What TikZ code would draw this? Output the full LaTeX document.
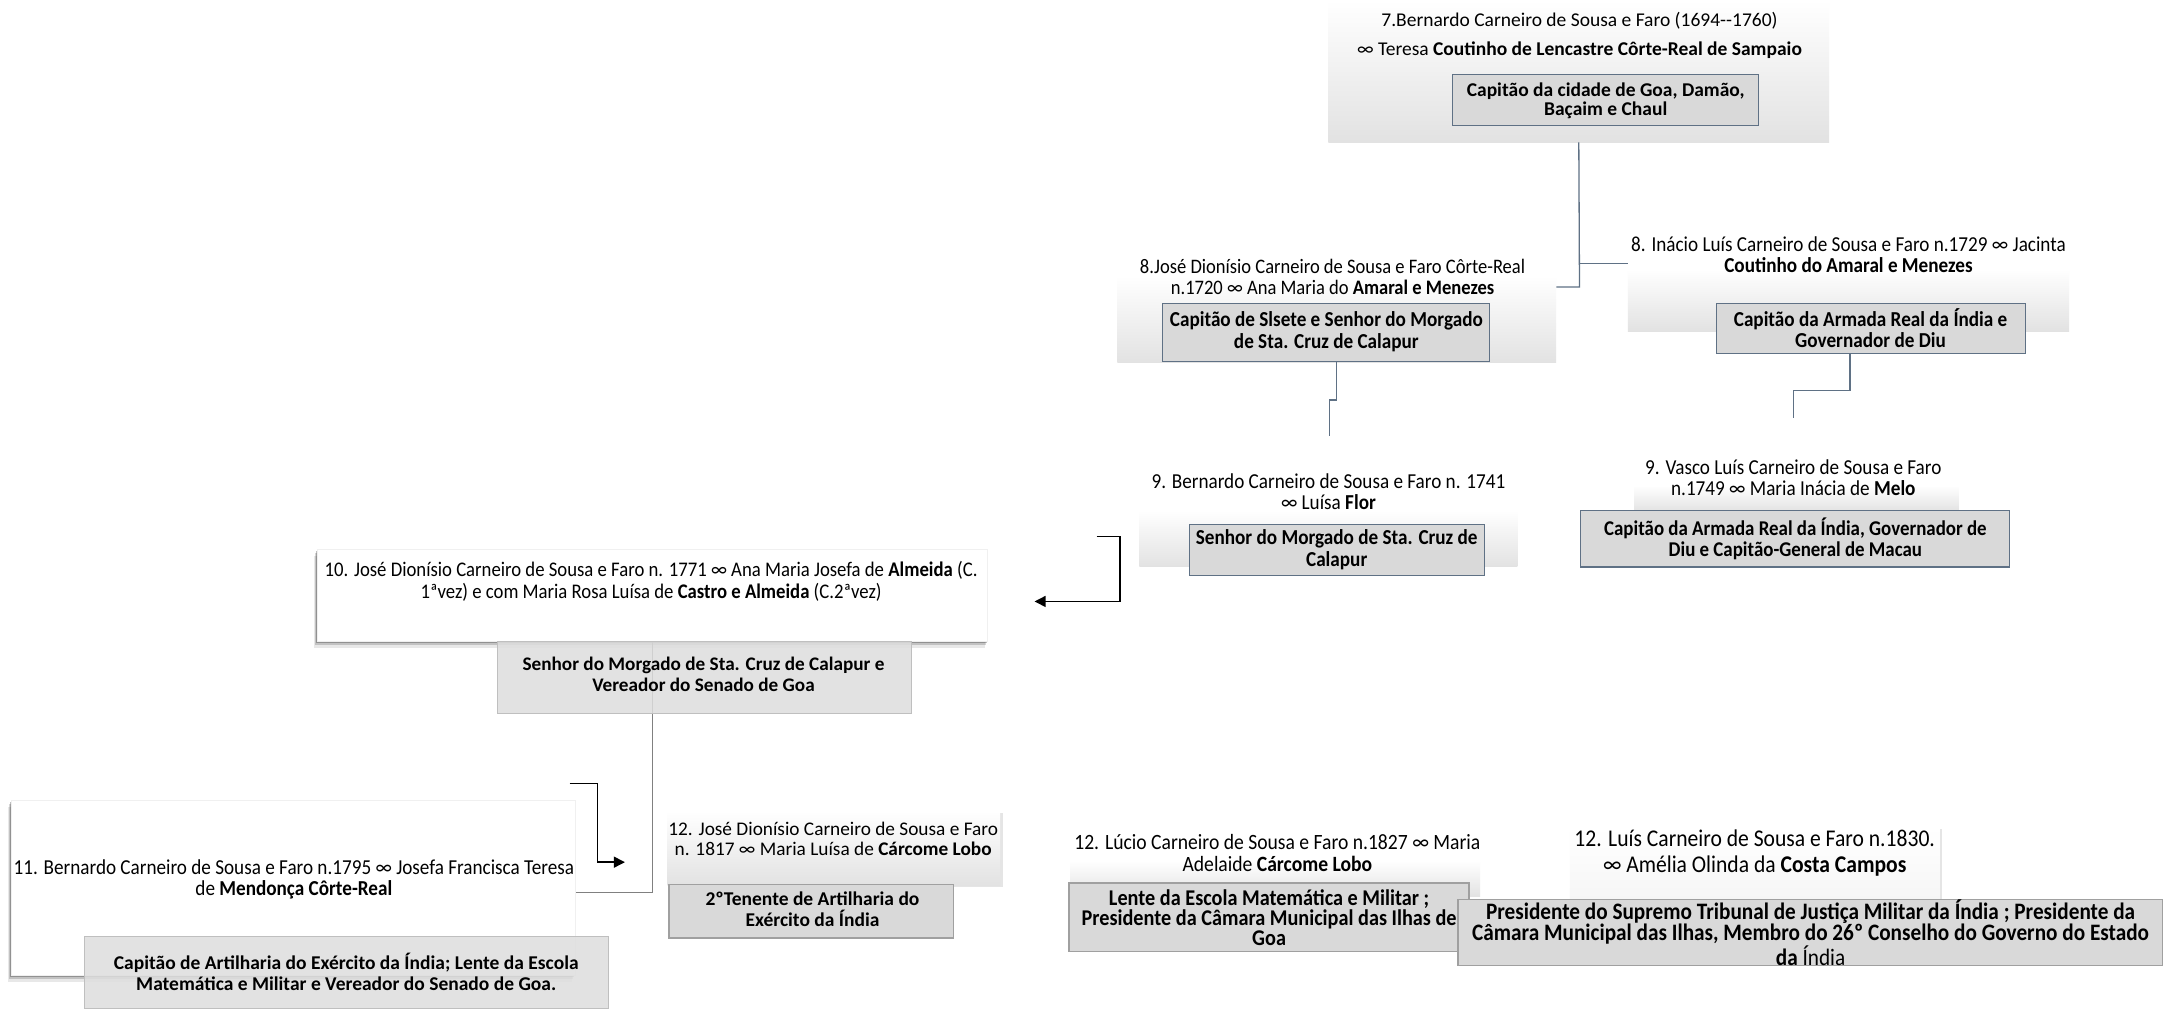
\documentclass[tikz,border=0pt]{standalone}
\usepackage{fontspec}
\setmainfont{Carlito}
\newfontfamily\cond[FakeStretch=0.9]{Carlito}
\usetikzlibrary{fit,shadows,arrows.meta}
\definecolor{boxfill}{HTML}{D9D9D9}
\definecolor{boxline}{HTML}{5F7185}
\definecolor{conn}{HTML}{5F7185}
\definecolor{gradbot}{HTML}{E2E2E2}
\definecolor{lbox}{HTML}{DEDEDE}
\definecolor{lline}{HTML}{BFBFBF}
\definecolor{mline}{HTML}{A0A0A0}
\tikzset{
  grad/.style={inner sep=0pt, top color=white, bottom color=gradbot, draw=none},
  ttl/.style={font=\fontsize{19.5}{21}\selectfont, align=center, inner sep=0pt},
  cttl/.style={font=\cond\fontsize{21.3}{21}\selectfont, align=center, inner sep=0pt},
  btxt/.style={font=\bfseries\fontsize{19.5}{21}\selectfont, align=center, inner sep=0pt},
  cbtxt/.style={font=\cond\bfseries\fontsize{21.3}{21.5}\selectfont, align=center, inner sep=0pt},
  ibox/.style={inner sep=0pt, fill=boxfill, draw=boxline, line width=1.1pt},
  softshadow/.style={
    drop shadow={shadow xshift=-1pt, shadow yshift=-2pt, opacity=0.25, fill=black},
    drop shadow={shadow xshift=-2pt, shadow yshift=-4pt, opacity=0.16, fill=black},
    drop shadow={shadow xshift=-3pt, shadow yshift=-6.5pt, opacity=0.09, fill=black}},
  wbox/.style={inner sep=0pt, fill=white, draw=gray!12, line width=0.6pt, softshadow},
  lgbox/.style={inner sep=0pt, fill=lbox, fill opacity=0.85, draw=lline, line width=1pt},
  mbox/.style={inner sep=0pt, fill=boxfill, draw=mline, line width=1.3pt},
  tree/.style={draw=conn, line width=1.3pt},
  blk/.style={draw=black, line width=1.4pt},
  blka/.style={blk, -{Triangle[length=11pt,width=11pt]}}
}
\begin{document}
\begin{tikzpicture}[x=1.3795pt,y=-1.3795pt]
\useasboundingbox (0,0) rectangle (1568,731);
\fill[white] (0,0) rectangle (1568,731);

% ---------- generation 7
\node[grad, fit={(963,0) (1326,103)}] (g7) {};
\node[ttl, font=\fontsize{19.5}{29}\selectfont] (t7) at (1145,25.5)
  {7.Bernardo Carneiro de Sousa e Faro (1694{-}{-}1760)\\ ∞ Teresa \textbf{Coutinho de Lencastre Côrte-Real de Sampaio}};
\node[ibox, fit={(1053,54) (1275,91)}] (i7) {};
\node[btxt, font=\bfseries\fontsize{19.5}{18.5}\selectfont] (x7) at (1164,73) {Capitão da cidade de Goa, Damão,\\ Baçaim e Chaul};

% ---------- generation 8
\node[grad, fit={(810,200) (1128,263)}] (g8a) {};
\node[cttl, font=\cond\fontsize{20.6}{21}\selectfont] (t8a) at (966,200.5)
  {8.José Dionísio Carneiro de Sousa e Faro Côrte-Real\\ n.1720 ∞ Ana Maria do \textbf{Amaral e Menezes}};
\node[ibox, fit={(843,220) (1080,262)}] (i8a) {};
\node[cbtxt] (x8a) at (961.5,240.5) {Capitão de Slsete e Senhor do Morgado\\ de Sta. Cruz de Calapur};

\node[grad, fit={(1180,195) (1500,240)}] (g8b) {};
\node[cttl] (t8b) at (1340,184.5)
  {8. Inácio Luís Carneiro de Sousa e Faro n.1729 ∞ Jacinta\\ \textbf{Coutinho do Amaral e Menezes}};
\node[ibox, fit={(1244,220) (1468,256)}] (i8b) {};
\node[cbtxt] (x8b) at (1356,238) {Capitão da Armada Real da Índia e\\ Governador de Diu};

\coordinate (j1) at (1145,191);
\coordinate (j2) at (1145,208);
\draw[tree] (g7.south) -- (j2) -- (g8a.east |- j2);
\draw[tree] (j1) -- (g8b.west |- j1);

% ---------- generation 9
\node[grad, fit={(826,370) (1100,411)}] (g9a) {};
\node[cttl] (t9a) at (963,356.5)
  {9. Bernardo Carneiro de Sousa e Faro n. 1741\\ ∞ Luísa \textbf{Flor}};
\node[ibox, fit={(862,380) (1076,417)}] (i9a) {};
\node[cbtxt] (x9a) at (969,398.5) {Senhor do Morgado de Sta. Cruz de\\ Calapur};

\node[grad, fit={(1185,352) (1420,371)}] (g9b) {};
\node[cttl] (t9b) at (1300,346)
  {9. Vasco Luís Carneiro de Sousa e Faro\\ n.1749 ∞ Maria Inácia de \textbf{Melo}};
\node[ibox, fit={(1146,370) (1457,411)}] (i9b) {};
\node[cbtxt, font=\cond\bfseries\fontsize{21}{21.5}\selectfont] (x9b) at (1301.5,390.5) {Capitão da Armada Real da Índia, Governador de\\ Diu e Capitão-General de Macau};

\coordinate (k1) at (969,290);
\coordinate (k2) at (964,290);
\coordinate (k3) at (964,316);
\draw[tree] (i8a.south -| k1) -- (k1) -- (k2) -- (k3);
\coordinate (m1) at (1341,283);
\coordinate (m2) at (1300,283);
\coordinate (m3) at (1300,303);
\draw[tree] (i8b.south -| m1) -- (m1) -- (m2) -- (m3);

% ---------- generation 10
\node[wbox, fit={(230,398) (716,465)}] (b10) {};
\node[cttl, font=\cond\fontsize{20.8}{21.5}\selectfont] (t10) at (472,421.5)
  {10. José Dionísio Carneiro de Sousa e Faro n. 1771 ∞ Ana Maria Josefa de \textbf{Almeida} (C.\\ 1ªvez) e com Maria Rosa Luísa de \textbf{Castro e Almeida} (C.2ªvez)};

\coordinate (a1) at (795,389);
\coordinate (a2) at (812,389);
\coordinate (a3) at (812,436);
\coordinate (a4) at (750,436);
\draw[blka] (a1) -- (a2) -- (a3) -- (a4);

% ---------- generation 11
\node[wbox, fit={(8,580) (417,707)}] (b11) {};
\node[cttl] (t11) at (213,637.5)
  {11. Bernardo Carneiro de Sousa e Faro n.1795 ∞ Josefa Francisca Teresa\\ de \textbf{Mendonça Côrte-Real}};

\coordinate (n1) at (473,647);
\draw[draw=gray, line width=1.2pt] (b10.south -| n1) -- (n1) -- (b11.east |- n1);

\node[lgbox, fit={(361,465) (661,517)}] (i10) {};
\node[btxt, font=\bfseries\fontsize{19.2}{21}\selectfont] (x10) at (510,489) {Senhor do Morgado de Sta. Cruz de Calapur e\\ Vereador do Senado de Goa};
\node[lgbox, fit={(61,679) (441,731)}] (i11) {};
\node[btxt] (x11) at (251,704.5) {Capitão de Artilharia do Exército da Índia; Lente da Escola\\ Matemática e Militar e Vereador do Senado de Goa.};

\coordinate (p1) at (413,568);
\coordinate (p2) at (433,568);
\coordinate (p3) at (433,625);
\coordinate (p4) at (453,625);
\draw[blka] (p1) -- (p2) -- (p3) -- (p4);

% ---------- generation 12
\node[grad, fit={(484,588) (725,642)}, drop shadow={shadow xshift=2.5pt, shadow yshift=-1.5pt, opacity=0.2}] (g12a) {};
\node[ttl, font=\fontsize{19.3}{20}\selectfont] (t12a) at (604,608)
  {12. José Dionísio Carneiro de Sousa e Faro\\ n. 1817 ∞ Maria Luísa de \textbf{Cárcome Lobo}};
\node[mbox, fit={(485,641) (691,680)}] (i12a) {};
\node[btxt] (x12a) at (589,659) {2ºTenente de Artilharia do\\ Exército da Índia};

\node[grad, fit={(776,624) (1073,650)}] (g12b) {};
\node[cttl, font=\cond\fontsize{21.8}{22}\selectfont] (t12b) at (926,618)
  {12. Lúcio Carneiro de Sousa e Faro n.1827 ∞ Maria\\ Adelaide \textbf{Cárcome Lobo}};
\node[mbox, fit={(775,640) (1065,690)}] (i12b) {};
\node[cbtxt, font=\cond\bfseries\fontsize{22.5}{20}\selectfont] (x12b) at (920,665) {Lente da Escola Matemática e Militar ;\\ Presidente da Câmara Municipal das Ilhas de\\ Goa};

\node[inner sep=0pt, top color=white, bottom color=gray!7, draw=none,
  drop shadow={shadow xshift=2pt, shadow yshift=-1pt, opacity=0.2},
  fit={(1138,600) (1406,652)}] (b12c) {};
\node[cttl, font=\cond\fontsize{24}{26}\selectfont] (t12c) at (1272,618.5)
  {12. Luís Carneiro de Sousa e Faro n.1830.\\ ∞ Amélia Olinda da \textbf{Costa Campos}};
\node[mbox, fit={(1057,652) (1568,700)}] (i12c) {};
\node[cbtxt, font=\cond\bfseries\fontsize{23.6}{21.4}\selectfont] (x12c) at (1312.5,676)
  {Presidente do Supremo Tribunal de Justiça Militar da Índia ; Presidente da\\ Câmara Municipal das Ilhas, Membro do 26º Conselho do Governo do Estado\\ da \mdseries Índia};
\end{tikzpicture}
\end{document}
